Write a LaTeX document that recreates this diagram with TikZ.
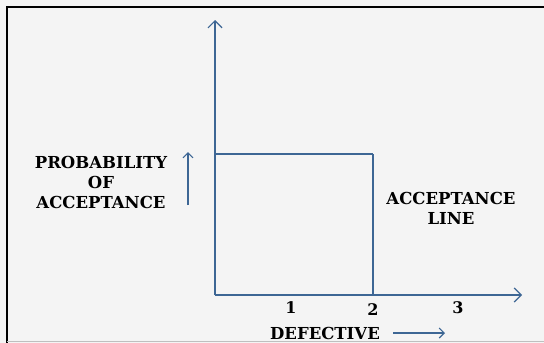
\documentclass[tikz,border=0pt]{standalone}
\usepackage{fontspec}
\setmainfont{Liberation Serif}
\newfontfamily\lblfont{DejaVu Serif}
\usetikzlibrary{arrows.meta}
\definecolor{axisblue}{HTML}{3D6694}
\definecolor{bggray}{HTML}{F4F4F4}
\tikzset{
  axis/.style={draw=axisblue, line width=1.2pt},
  barb/.style={-{Straight Barb[length=7pt,width=14pt,line width=1.2pt]}},
  lbl/.style={font=\lblfont\fontsize{16.5}{20}\selectfont\bfseries, text=black, inner sep=0pt, align=center},
  num/.style={font=\lblfont\fontsize{16}{20}\selectfont\bfseries, text=black, inner sep=0pt}
}
\begin{document}
\begin{tikzpicture}[x=1pt,y=-1pt]
\useasboundingbox (0,0) rectangle (544,343);
\fill[bggray] (0,0) rectangle (544,343);
\draw[line width=1.5pt, black] (7,343) -- (7,7) -- (544,7);
\draw[line width=1pt, gray!50] (7,341) -- (544,341);
% axes
\coordinate (O) at (215,295);
\coordinate (ytop) at (215,20);
\coordinate (xend) at (522,295);
\coordinate (A) at (215,154);
\coordinate (B) at (373,154);
\coordinate (C) at (373,295);
\draw[axis, barb] (O) -- (ytop);
\draw[axis, barb] (O) -- (xend);
\draw[axis] (A) -- (B);
\draw[axis] (B) -- (C);
% small arrow
\coordinate (pa1) at (188,205);
\coordinate (pa2) at (188,152);
\draw[axis, line width=1.1pt, -{Straight Barb[length=5pt,width=10pt,line width=1.1pt]}] (pa1) -- (pa2);
% labels
\node[lbl] (prob) at (101,162) {PROBABILITY};
\node[lbl] (of) at (101,182) {OF};
\node[lbl] (acc) at (101,202) {ACCEPTANCE};
\node[lbl] (acc2) at (451,198) {ACCEPTANCE};
\node[lbl] (line) at (451,218) {LINE};
\node[num] (n1) at (291,308) {1};
\node[num] (n2) at (373,310) {2};
\node[num] (n3) at (458,308) {3};
\node[lbl] (def) at (325,333) {DEFECTIVE};
\coordinate (da1) at (393,333);
\coordinate (da2) at (445,333);
\draw[axis, line width=1.1pt, -{Straight Barb[length=5pt,width=10pt,line width=1.1pt]}] (da1) -- (da2);
\end{tikzpicture}
\end{document}
